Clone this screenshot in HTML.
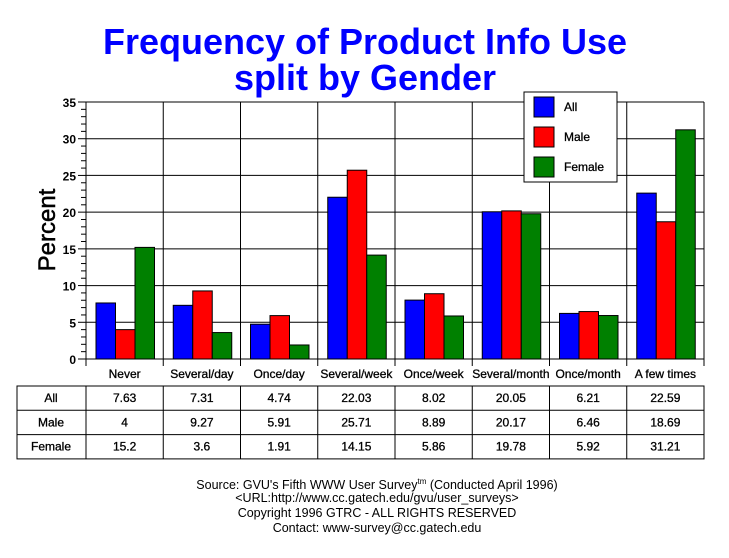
<!DOCTYPE html>
<html><head><style>
body{margin:0;background:#fff;}
svg text{font-family:"Liberation Sans",sans-serif;}
</style></head><body>
<svg id="s" width="729" height="553" xmlns="http://www.w3.org/2000/svg">
<rect width="729" height="553" fill="#fff"/>
<text x="365" y="54" font-size="36" font-weight="bold" fill="#0000ff" text-anchor="middle">Frequency of Product Info Use</text>
<text x="365" y="90" font-size="36" font-weight="bold" fill="#0000ff" text-anchor="middle">split by Gender</text>
<text transform="translate(55,230) rotate(-90)" font-size="24" text-anchor="middle" fill="#000" stroke="#000" stroke-width="0.5">Percent</text>
<g id="g"></g>
<g font-size="12.5" text-anchor="middle" fill="#000">
<text x="377" y="489">Source: GVU's Fifth WWW User Survey<tspan font-size="8" dy="-5">tm</tspan><tspan dy="5">  (Conducted April 1996)</tspan></text>
<text x="377" y="502">&lt;URL:http://www.cc.gatech.edu/gvu/user_surveys&gt;</text>
<text x="377" y="517">Copyright 1996 GTRC -  ALL RIGHTS RESERVED</text>
<text x="377" y="532">Contact: www-survey@cc.gatech.edu</text>
</g>
</svg>
<script>
var g=document.getElementById('g'),h='';
var L=86,R=704,T=102,B=359,cw=(R-L)/8,sc=(B-T)/35;
var cats=["Never","Several/day","Once/day","Several/week","Once/week","Several/month","Once/month","A few times"];
var d=[[7.63,7.31,4.74,22.03,8.02,20.05,6.21,22.59],[4,9.27,5.91,25.71,8.89,20.17,6.46,18.69],[15.2,3.6,1.91,14.15,5.86,19.78,5.92,31.21]];
var col=["#0000ff","#ff0000","#008000"];
for(var v=5;v<=35;v+=5){var y=B-v*sc;h+='<line x1="'+L+'" x2="'+R+'" y1="'+y+'" y2="'+y+'" stroke="#000"/>';}
for(var i=0;i<=8;i++){var x=L+i*cw;h+='<line x1="'+x+'" x2="'+x+'" y1="'+T+'" y2="'+(B+7)+'" stroke="#000"/>';}
for(var v=0;v<=35;v++){var y=B-v*sc;h+='<line x1="'+(v%5?81:78)+'" x2="'+L+'" y1="'+y+'" y2="'+y+'" stroke="#000"/>';if(v%5==0)h+='<text x="76" y="'+(y+5)+'" font-size="12" font-weight="bold" text-anchor="end">'+v+'</text>';}
h+='<line x1="'+L+'" x2="'+R+'" y1="'+B+'" y2="'+B+'" stroke="#000"/>';
for(var i=0;i<8;i++){for(var k=0;k<3;k++){var x=L+i*cw+10+k*19.5,hh=d[k][i]*sc;h+='<rect x="'+x+'" y="'+(B-hh)+'" width="19.5" height="'+hh+'" fill="'+col[k]+'" stroke="#000"/>';}
h+='<text x="'+(L+i*cw+cw/2)+'" y="378" font-size="12" text-anchor="middle" stroke="#000" stroke-width="0.3">'+cats[i]+'</text>';}
h+='<rect x="524" y="92" width="93" height="90" fill="#fff" stroke="#000"/>';
var ln=["All","Male","Female"];
for(var k=0;k<3;k++){h+='<rect x="534" y="'+(97+30*k)+'" width="20" height="20" fill="'+col[k]+'" stroke="#000"/><text x="564" y="'+(111+30*k)+'" font-size="12" stroke="#000" stroke-width="0.3">'+ln[k]+'</text>';}
var tT=386,rh=24.3;
h+='<rect x="17" y="'+tT+'" width="'+(R-17)+'" height="'+(3*rh)+'" fill="none" stroke="#000"/>';
for(var r=1;r<3;r++)h+='<line x1="17" x2="'+R+'" y1="'+(tT+r*rh)+'" y2="'+(tT+r*rh)+'" stroke="#000"/>';
for(var i=0;i<8;i++){var x=L+i*cw;h+='<line x1="'+x+'" x2="'+x+'" y1="'+tT+'" y2="'+(tT+3*rh)+'" stroke="#000"/>';}
for(var r=0;r<3;r++){h+='<text x="51" y="'+(tT+r*rh+16)+'" font-size="12" text-anchor="middle" stroke="#000" stroke-width="0.3">'+ln[r]+'</text>';
for(var i=0;i<8;i++)h+='<text x="'+(L+i*cw+cw/2)+'" y="'+(tT+r*rh+16)+'" font-size="12" text-anchor="middle" stroke="#000" stroke-width="0.3">'+d[r][i]+'</text>';}
g.innerHTML=h;
</script>
</body></html>
